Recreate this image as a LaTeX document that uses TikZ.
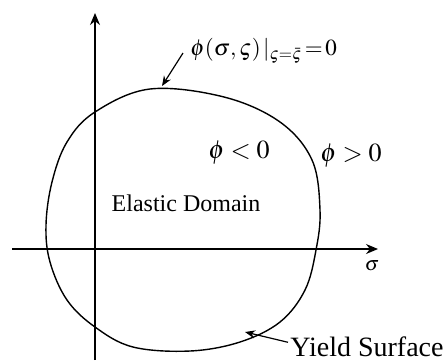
\documentclass[tikz,border=0pt]{standalone}
\usepackage{amsmath,amssymb}
\usepackage{mathptmx}
\usepackage{fontspec}
\setmainfont{Liberation Serif}
\usepackage{tikz}
\usetikzlibrary{positioning,arrows.meta,calc}

\begin{document}
\begin{tikzpicture}[
    x=0.5pt, y=-0.5pt,
    axis/.style={line width=0.6pt, -{Stealth[length=6pt,width=5pt]}},
    surface/.style={line width=0.7pt},
    pointer/.style={line width=0.6pt, -{Stealth[length=5pt,width=4pt]}},
    lbl/.style={inner sep=0pt, font=\fontsize{13}{15}\selectfont}
  ]
  \useasboundingbox (0,0) rectangle (448,360);

  % Axes
  \coordinate (xstart) at (12,249);
  \coordinate (xend)   at (378,249);
  \coordinate (ystart) at (95,360);
  \coordinate (yend)   at (95,13);
  \draw[axis] (xstart) -- (xend);
  \draw[axis] (ystart) -- (yend);
  \node[lbl, font=\fontsize{10}{12}\selectfont] (sig) at (372,266) {$\sigma$};

  % Yield surface
  \draw[surface] plot[smooth cycle, tension=0.6] coordinates {
    (95,112) (150,89) (224,97) (280,122) (312,160) (320,210)
    (316,250) (305,290) (280,322) (240,342) (190,351) (133,347)
    (95,327) (67,300) (50,262) (46,225) (52,182) (67,142)};

  % Labels
  \node[lbl, anchor=west, font=\fontsize{11.5}{14}\selectfont] (cond) at (190,51)
    {$\phi(\sigma,\varsigma)\,|_{\varsigma=\bar{\varsigma}}\!=\!0$};
  \node[lbl] (inside) at (239,153) {$\phi<0$};
  \node[lbl] (outside) at (351,156) {$\phi>0$};
  \node[lbl, font=\fontsize{12}{14}\selectfont] (domain) at (186,203) {Elastic Domain};
  \node[lbl, anchor=base west, font=\fontsize{14}{16}\selectfont] (yield) at (290,356) {Yield Surface};

  % Pointers
  \coordinate (ontop) at (162,86);
  \coordinate (onbot) at (245,332);
  \draw[pointer] ([xshift=-3.5pt,yshift=-1pt]cond.west) -- (ontop);
  \draw[pointer] ([xshift=-1pt,yshift=2pt]yield.west) -- (onbot);
\end{tikzpicture}
\end{document}
